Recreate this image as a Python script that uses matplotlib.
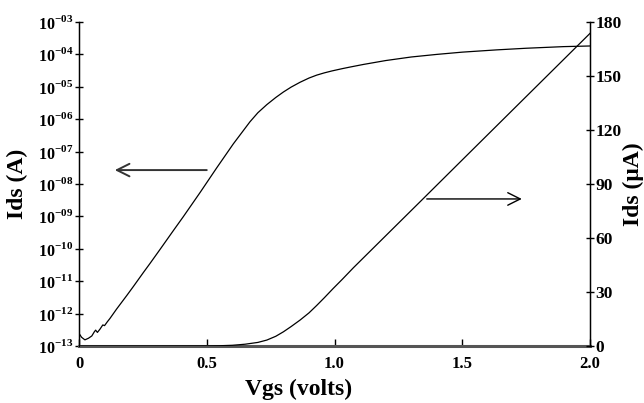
import matplotlib
matplotlib.use("Agg")
import matplotlib.pyplot as plt
from matplotlib.ticker import FixedLocator, NullLocator

plt.rcParams['font.family'] = ['Liberation Serif', 'DejaVu Serif']
plt.rcParams['font.weight'] = 'bold'
plt.rcParams['mathtext.fontset'] = 'custom'
plt.rcParams['mathtext.rm'] = 'Liberation Serif:bold'
plt.rcParams['mathtext.bf'] = 'Liberation Serif:bold'

# log-scale Ids (A) vs Vgs (values as log10)
vgs_log = [0, 0.010, 0.023, 0.037, 0.050, 0.060, 0.065, 0.072, 0.082, 0.093, 0.100,
           0.111, 0.121, 0.147, 0.187, 0.213, 0.252, 0.278, 0.317, 0.343, 0.369,
           0.408, 0.474, 0.539, 0.604, 0.669, 0.700, 0.735, 0.770, 0.800, 0.830,
           0.865, 0.900, 0.930, 0.960, 0.990, 1.030, 1.061, 1.113, 1.200, 1.300,
           1.400, 1.500, 1.635, 1.750, 1.896, 2.0]
log_ids = [-12.61, -12.73, -12.81, -12.76, -12.69, -12.56, -12.51, -12.58, -12.48, -12.35, -12.37,
           -12.25, -12.15, -11.86, -11.44, -11.16, -10.73, -10.45, -10.02, -9.73, -9.44,
           -9.01, -8.26, -7.50, -6.76, -6.08, -5.80, -5.55, -5.33, -5.16, -5.01,
           -4.86, -4.73, -4.64, -4.57, -4.51, -4.44, -4.39, -4.31, -4.19, -4.08,
           -4.00, -3.93, -3.86, -3.81, -3.76, -3.74]
ids_log = [10 ** v for v in log_ids]

# linear Ids (uA) vs Vgs
vgs_lin = [0, 0.3, 0.5, 0.55, 0.6, 0.65, 0.7, 0.735, 0.77, 0.8, 0.83, 0.865, 0.9,
           0.93, 0.96, 0.995, 1.03, 1.074, 1.2, 1.341, 1.5, 1.719, 1.798, 2.0]
ids_lin = [0, 0, 0.05, 0.15, 0.4, 1.0, 2.0, 3.3, 5.4, 7.9, 10.8, 14.4, 18.4,
           22.5, 26.8, 32.0, 37.0, 43.5, 61.2, 81.0, 103.4, 134.2, 145.3, 173.7]

x_ticks = [0, 0.5, 1.0, 1.5, 2.0]
x_ticklabels = ['0', '0.5', '1.0', '1.5', '2.0']
log_exps = list(range(-13, -2))
log_ticklabels = [r'$10^{-%02d}$' % (-e) for e in log_exps]
lin_ticks = [0, 30, 60, 90, 120, 150, 180]

fig = plt.figure(figsize=(6.44, 4.03), dpi=100)
ax = fig.add_axes([0.1227, 0.1414, 0.7935, 0.804])
ax2 = ax.twinx()

ax.plot(vgs_log, ids_log, color='black', lw=0.9)
ax2.plot(vgs_lin, ids_lin, color='black', lw=0.9)

ax.set_xlim(0, 2.0)
ax.set_yscale('log')
ax.set_ylim(1e-13, 1e-3)
ax2.set_ylim(0, 180)

ax.yaxis.set_major_locator(FixedLocator([10.0 ** e for e in log_exps]))
ax.yaxis.set_minor_locator(NullLocator())
ax.set_yticklabels(log_ticklabels)
ax.set_xticks(x_ticks)
ax.set_xticklabels(x_ticklabels)
ax2.set_yticks(lin_ticks)

for a in (ax, ax2):
    a.spines['top'].set_visible(False)
ax.spines['bottom'].set_linewidth(2.2)
ax.spines['bottom'].set_color('#555555')
ax2.spines['bottom'].set_visible(False)
ax.spines['left'].set_linewidth(1.0)
ax2.spines['right'].set_linewidth(1.0)

ax.tick_params(axis='x', direction='in', length=5, width=1, labelsize=12, pad=7)
ax.tick_params(axis='y', direction='inout', length=6, width=1, labelsize=11.5, pad=1)
ax2.tick_params(axis='y', direction='inout', length=6, width=1, labelsize=12.5, pad=1)
for lab in ax.get_xticklabels() + ax2.get_yticklabels():
    lab.set_fontweight('bold')

ax.set_xlabel('Vgs (volts)', fontsize=17, fontweight='bold', va='center')
ax.xaxis.set_label_coords(0.43, -0.135)
ax.set_ylabel('Ids (A)', fontsize=17, fontweight='bold', va='center')
ax.yaxis.set_label_coords(-0.121, 0.5)
ax2.set_ylabel('Ids (\u03bcA)', fontsize=17, fontweight='bold', va='center')
ax2.yaxis.set_label_coords(1.084, 0.5)

# arrows pointing to the relevant axis
ax.annotate('', xy=(0.14, 10 ** -7.57), xytext=(0.5, 10 ** -7.57),
            arrowprops=dict(arrowstyle='->,head_length=0.9,head_width=0.45',
                            color='#333333', lw=1.4, shrinkA=0, shrinkB=0))
ax2.annotate('', xy=(1.733, 81.7), xytext=(1.361, 81.7),
             arrowprops=dict(arrowstyle='->,head_length=0.9,head_width=0.45',
                             color='black', lw=1.0, shrinkA=0, shrinkB=0))

fig.savefig('out.png', dpi=100)
